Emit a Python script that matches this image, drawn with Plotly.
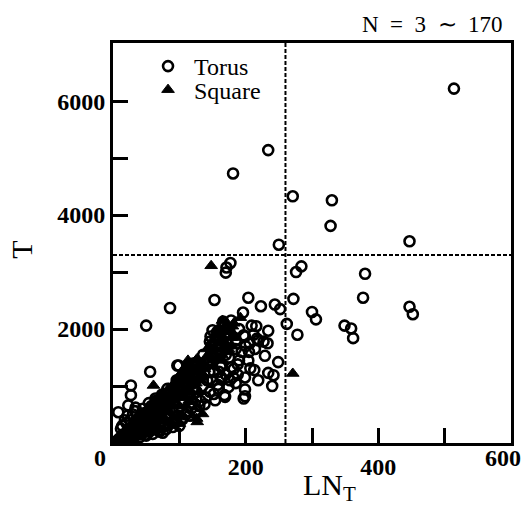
import plotly.graph_objects as go

# ---------------- data ----------------
torus_x = [514, 234, 181, 271, 330, 328, 447, 250, 284, 276, 380, 177, 171, 170,
           204, 223, 244, 252, 272, 377, 300, 306, 447, 452, 262, 278, 349, 359, 362,
           153, 86, 50, 196, 209, 216, 234, 150, 147, 199, 219, 233, 229, 249, 205,
           99, 150, 179, 213, 199, 234, 242, 240, 199, 199, 159, 168, 94, 56,
           166, 157, 172, 227, 181, 197, 169, 154, 69, 27, 27, 23, 8, 66,
           146, 164, 174, 162, 207, 219, 116, 142, 176, 197, 217, 146, 160, 185,
           170, 190, 128, 110, 125, 140, 120, 100, 85, 75, 60, 50, 40, 35, 25, 15,
           10, 20, 30, 45, 55, 65, 80, 90, 105, 115, 135, 150, 160, 175, 185, 190,
           165, 130, 110, 95, 70, 40, 20, 12, 18, 58, 88, 145, 185, 50, 75, 97,
           5, 8, 12, 15, 18, 22, 25, 28, 32, 36, 40, 44, 48, 52, 56, 62, 66, 72, 78,
           84, 92, 98, 104, 112, 118, 124, 132, 138, 146, 152, 158, 164, 170, 182,
           188, 194, 200, 206, 212, 204, 214, 188, 176, 22, 33, 38,
           14, 26, 34, 46, 54, 64, 74, 82, 96, 108, 122, 136, 148, 156, 168, 178, 152, 162,
           20, 30, 40, 50, 60, 70, 80, 90, 100, 35, 45, 55, 65, 75, 85, 95, 105, 115, 125]
torus_y = [6220, 5140, 4730, 4330, 4260, 3810, 3540, 3480, 3100, 3000, 2970, 3160, 3080, 2990,
           2550, 2400, 2430, 2350, 2530, 2550, 2300, 2170, 2390, 2260, 2090, 1900, 2060, 2010, 1840,
           2510, 2370, 2060, 2290, 2060, 2050, 1970, 1980, 1870, 1870, 1800, 1750, 1530, 1420, 1600,
           1360, 1420, 1330, 1280, 1150, 1230, 1190, 1000, 940, 820, 950, 840, 890, 1250,
           2130, 1950, 1920, 1780, 1160, 780, 810, 750, 220, 1010, 840, 660, 540, 750,
           1450, 1360, 980, 1340, 1310, 1100, 1310, 1100, 1920, 1890, 1830, 1780, 1700, 1650,
           1550, 1450, 1200, 1000, 900, 800, 700, 600, 700, 600, 500, 400, 450, 300, 250, 150,
           80, 350, 500, 600, 300, 400, 450, 550, 750, 850, 1000, 1100, 1250, 1500, 1800, 2000,
           1600, 650, 500, 400, 300, 200, 100, 250, 400, 650, 780, 1250, 1050, 150, 180, 1360,
           20, 60, 40, 90, 60, 120, 80, 160, 120, 200, 150, 250, 200, 280, 220, 330, 260, 380, 320,
           420, 380, 480, 430, 560, 600, 520, 740, 680, 900, 860, 1020, 1140, 1200, 1300,
           1380, 1600, 1700, 1750, 1900, 1450, 1650, 1200, 1100, 480, 560, 420,
           300, 400, 620, 520, 700, 780, 850, 950, 1100, 1250, 1400, 1550, 1700, 1850, 2050, 2150, 1250, 1150,
           50, 80, 100, 130, 160, 200, 240, 280, 300, 150, 180, 200, 240, 280, 330, 360, 420, 480, 560]

square_x = [148, 271, 192, 165, 125, 118, 127, 61, 100, 127, 135,
            5, 8, 10, 12, 15, 18, 20, 22, 25, 28, 30, 33, 35, 38, 40, 43, 45, 48, 50,
            55, 58, 60, 65, 68, 70, 75, 78, 80, 85, 88, 90, 95, 98, 100, 103, 105, 108,
            110, 112, 115, 118, 120, 122, 125, 128, 130, 132, 135, 138, 140, 145, 150,
            155, 158, 160, 165, 168, 170, 175, 178, 180, 172, 60, 80, 110, 90, 126, 113,
            100, 104, 108, 112, 116, 120, 124, 128, 132, 136, 106, 114, 102, 118,
            142, 146, 150, 154, 158, 162, 166, 170, 174, 178, 182, 148, 156, 164, 172,
            180, 186, 152, 160,
            3, 6, 9, 14, 17, 24, 27, 32, 37, 42, 47, 52, 57, 62, 67, 72, 77, 82, 87, 92, 97,
            4, 8, 12, 16, 20, 24, 28, 32, 36, 40, 44, 48, 52, 56, 64, 72, 76, 84, 92, 96, 101, 107, 111,
            25, 50, 60, 70, 80, 90, 100, 100, 85, 75, 65, 55, 45, 35, 30, 110, 120, 130, 115, 125, 135]
square_y = [3110, 1220, 2200, 2150, 1450, 1330, 1480, 1010, 340, 370, 510,
            40, 80, 120, 60, 150, 200, 130, 250, 200, 300, 260, 350, 300, 400, 350, 450, 400, 500, 450,
            550, 500, 620, 600, 700, 650, 750, 700, 820, 800, 900, 850, 950, 900, 1050, 1000, 1120, 1080,
            1150, 950, 1200, 1100, 1250, 1050, 1300, 1150, 1350, 1250, 1400, 1300, 1500, 1550, 1600,
            1650, 1750, 1800, 1850, 1700, 1950, 2000, 1850, 2050, 2100, 400, 550, 800, 650, 430, 1450,
            1100, 1200, 1300, 1250, 1400, 1150, 1000, 1350, 1100, 1200, 900, 1000, 800, 900,
            1650, 1700, 1800, 1900, 2000, 1900, 2000, 1750, 1650, 1950, 2100, 1450, 1500, 1550, 1600,
            1700, 1850, 1350, 1450,
            20, 50, 30, 100, 80, 180, 140, 220, 260, 300, 330, 380, 420, 480, 520, 560, 600, 650, 700, 750, 800,
            50, 90, 140, 190, 230, 280, 320, 370, 420, 460, 500, 550, 600, 640, 740, 830, 880, 960, 1050, 1100, 1200, 1280, 1350,
            120, 280, 330, 420, 380, 450, 480, 650, 560, 480, 480, 420, 380, 270, 350, 650, 800, 900, 750, 1050, 1150]

x_label_vals = [200, 400]
x_minor_vals = [100, 300, 500]
x_edge_labels = [(0, "0", -13), (600, "600", -8)]
y_label_vals = [2000, 4000, 6000]
y_minor_vals = [1000, 3000, 5000]

ln_cut = 260
t_cut = 3300

# ---------------- figure ----------------
SERIF = "Liberation Serif"
TICKFONT = dict(family=SERIF, size=24, color="black", weight="bold")
fig = go.Figure()

fig.add_trace(go.Scatter(
    x=torus_x, y=torus_y, mode="markers", name="\u00a0Torus",
    marker=dict(symbol="circle-open", size=10, color="black", line=dict(width=2.6, color="black")),
    legend="legend",
))
fig.add_trace(go.Scatter(
    x=square_x, y=square_y, mode="markers", name="\u00a0Square",
    marker=dict(symbol="triangle-up", size=11, color="black", line=dict(width=1, color="black")),
    legend="legend2",
))

dash_line = dict(color="black", width=2, dash="4px,2px")
fig.add_shape(type="line", x0=ln_cut, x1=ln_cut, y0=0, y1=1, xref="x", yref="paper",
              line=dash_line, layer="below")
fig.add_shape(type="line", x0=0, x1=1, y0=t_cut, y1=t_cut, xref="paper", yref="y",
              line=dash_line, layer="below")

axis_common = dict(
    showgrid=False, zeroline=False, showline=True, mirror=True,
    linecolor="black", linewidth=3, ticks="inside", ticklen=15, tickwidth=2.5,
    tickcolor="black", tickfont=TICKFONT,
)
minor_common = dict(ticks="inside", ticklen=15, tickwidth=2.5, tickcolor="black", showgrid=False)

fig.update_layout(
    width=531, height=505,
    margin=dict(l=113, r=20, t=43, b=62),
    plot_bgcolor="white", paper_bgcolor="white",
    xaxis=dict(range=[0, 600], tickvals=x_label_vals, minor=dict(tickvals=x_minor_vals, **minor_common),
               **axis_common),
    yaxis=dict(range=[0, 7020], tickvals=y_label_vals, minor=dict(tickvals=y_minor_vals, **minor_common),
               **axis_common),
    legend=dict(x=0.088, y=1 - (44 - 43) / 399.5, xanchor="left", yanchor="top",
                bgcolor="rgba(0,0,0,0)", font=dict(family=SERIF, size=24, color="black")),
    legend2=dict(x=0.088, y=1 - (67.5 - 43) / 399.5, xanchor="left", yanchor="top",
                 bgcolor="rgba(0,0,0,0)", font=dict(family=SERIF, size=24, color="black")),
    showlegend=True,
)

# end labels of the x axis sit slightly left of their ticks, as in the reference
for xv, txt, shift in x_edge_labels:
    fig.add_annotation(text=txt, x=xv, xref="x", y=1 - (457 - 43) / 399.5, yref="paper",
                       xshift=shift, xanchor="center", yanchor="middle", showarrow=False,
                       font=TICKFONT)

fig.add_annotation(text="N\u00a0\u00a0=\u00a0\u00a03\u00a0\u00a0\u223c\u00a0\u00a0170",
                   xref="paper", yref="paper", x=(505 - 113) / 398, y=1 + (43 - 24.3) / 399.5,
                   xanchor="right", yanchor="middle", showarrow=False,
                   font=dict(family=SERIF, size=23, color="black"))
fig.add_annotation(text="LN<sub>T</sub>", xref="paper", yref="paper",
                   x=(329 - 113) / 398, y=1 - (486 - 43) / 399.5,
                   xanchor="center", yanchor="middle", showarrow=False,
                   font=dict(family=SERIF, size=30, color="black"))
fig.add_annotation(text="T", xref="paper", yref="paper", textangle=-90,
                   x=(21.5 - 113) / 398, y=1 - (250 - 43) / 399.5,
                   xanchor="center", yanchor="middle", showarrow=False,
                   font=dict(family=SERIF, size=30, color="black"))

fig.write_html("out.html", config={"displayModeBar": False},
               post_script="document.body.style.margin='0';document.body.style.overflow='hidden';")
